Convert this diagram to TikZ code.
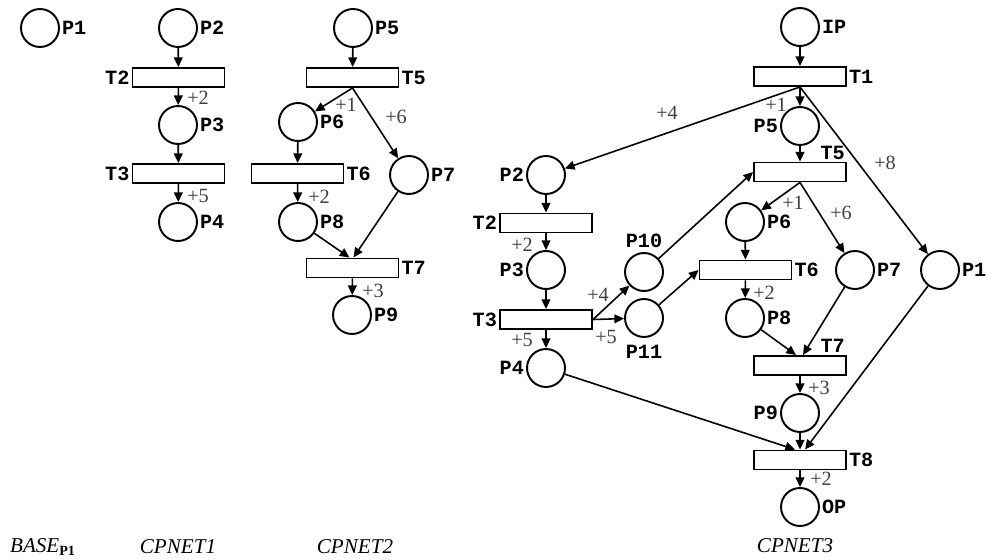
\documentclass[tikz,border=0pt]{standalone}
\usepackage{fontspec}
\setmainfont{Liberation Serif}
\setmonofont{Liberation Mono}
\usetikzlibrary{arrows.meta,calc}

\tikzset{
  place/.style={circle, draw, line width=1.1pt, minimum size=0.76cm, inner sep=0pt},
  trans/.style={rectangle, draw, line width=1.1pt, minimum width=1.84cm, minimum height=0.38cm, inner sep=0pt},
  arc/.style={-{Triangle[length=5.5pt,width=5pt]}, line width=0.9pt},
  tag/.style={font=\ttfamily\bfseries\fontsize{11.5}{12}\selectfont, inner sep=1pt},
  num/.style={font=\fontsize{11.5}{12}\selectfont, text=black!75, inner sep=0pt},
  title/.style={font=\itshape\fontsize{12}{14}\selectfont, inner sep=0pt},
  every label/.append style={tag},
  label distance=0pt
}

\begin{document}
\begin{tikzpicture}[x=0.02cm, y=-0.02cm]
\useasboundingbox (0,0) rectangle (993,560);

% ---------- BASE ----------
\node[place, label=east:P1] (bP1) at (40,28) {};

% ---------- CPNET1 ----------
\node[place, label=east:P2] (aP2) at (178,28) {};
\node[trans, label=west:T2] (aT2) at (178.5,77.5) {};
\node[place, label=east:P3] (aP3) at (178,125) {};
\node[trans, label=west:T3] (aT3) at (178.5,173.5) {};
\node[place, label=east:P4] (aP4) at (178,222) {};

\draw[arc] (aP2) -- (aT2);
\draw[arc] (aT2) -- (aP3);
\draw[arc] (aP3) -- (aT3);
\draw[arc] (aT3) -- (aP4);
\node[num] (aN1) at (198,98) {+2};
\node[num] (aN2) at (198,196) {+5};

% ---------- CPNET2 ----------
\node[place, label=east:P5] (cP5) at (353,28) {};
\node[trans, label=east:T5] (cT5) at (352.5,77.5) {};
\node[place, label=east:P6] (cP6) at (298,122) {};
\node[place, label=east:P7] (cP7) at (409,175) {};
\node[trans, label=east:T6] (cT6) at (297.5,173.5) {};
\node[place, label=east:P8] (cP8) at (298,222) {};
\node[trans, label=east:T7] (cT7) at (352.5,268) {};
\node[place, label=east:P9] (cP9) at (352,315) {};

\draw[arc] (cP5) -- (cT5);
\draw[arc] (cT5.south) -- (cP6);
\draw[arc] (cT5.south) -- (cP7);
\draw[arc] (cP6) -- (cT6);
\draw[arc] (cT6) -- (cP8);
\draw[arc] (cP8) -- ($(cT7.north)+(-3,0)$);
\draw[arc] (cP7) -- ($(cT7.north)+(1,0)$);
\draw[arc] (cT7) -- (cP9);
\node[num] (cN1) at (346,105) {+1};
\node[num] (cN2) at (396,117) {+6};
\node[num] (cN3) at (319,197) {+2};
\node[num] (cN4) at (373,291) {+3};

% ---------- CPNET3 ----------
\node[place, label=east:IP] (IP) at (800,27) {};
\node[trans, label=east:T1] (T1) at (800,76.5) {};
\node[place, label=west:P5] (P5) at (800,126) {};
\node[trans, label={[anchor=south east]north east:T5}] (T5) at (800,172) {};
\node[place, label=west:P2] (P2) at (546,175) {};
\node[trans, label=west:T2] (T2) at (546,223) {};
\node[place, label=west:P3] (P3) at (546,270) {};
\node[trans, label=west:T3] (T3) at (546,319.5) {};
\node[place, label=west:P4] (P4) at (546,368) {};
\node[place, label={[label distance=1pt]north:P10}] (P10) at (644,272) {};
\node[place, label={[label distance=3pt]south:P11}] (P11) at (644,318) {};
\node[place, label=east:P6] (P6) at (745,222) {};
\node[trans, label=east:T6] (T6) at (745.5,270) {};
\node[place, label=east:P7] (P7) at (855,270) {};
\node[place, label=east:P1] (P1) at (940,270) {};
\node[place, label=east:P8] (P8) at (745,318) {};
\node[trans, label={[anchor=south east]north east:T7}] (T7) at (800,365.5) {};
\node[place, label=west:P9] (P9) at (800,413) {};
\node[trans, label=east:T8] (T8) at (800,460) {};
\node[place, label=east:OP] (OP) at (800,507) {};

\draw[arc] (IP) -- (T1);
\draw[arc] (T1.south) -- (P5);
\draw[arc] (T1.south) -- (P2);
\draw[arc] (T1.south) -- (P1);
\draw[arc] (P5) -- (T5);
\draw[arc] (T5.south) -- (P6);
\draw[arc] (T5.south) -- (P7);
\draw[arc] (P2) -- (T2);
\draw[arc] (T2) -- (P3);
\draw[arc] (P3) -- (T3);
\draw[arc] (T3) -- (P4);
\draw[arc] (T3.east) -- (P10);
\draw[arc] (T3.east) -- (P11);
\draw[arc] (P10) -- (T5.west);
\draw[arc] (P11) -- (T6.west);
\draw[arc] (P6) -- (T6);
\draw[arc] (T6) -- (P8);
\draw[arc] (P8) -- ($(T7.north)+(-4,0)$);
\draw[arc] (P7) -- ($(T7.north)+(3,0)$);
\draw[arc] (T7) -- (P9);
\draw[arc] (P9) -- (T8);
\draw[arc] (P4) -- ($(T8.north)+(-5,0)$);
\draw[arc] (P1) -- ($(T8.north)+(5,0)$);
\draw[arc] (T8) -- (OP);

\node[num] (N1) at (667,113) {+4};
\node[num] (N2) at (776,105) {+1};
\node[num] (N3) at (885,163) {+8};
\node[num] (N4) at (793,203) {+1};
\node[num] (N5) at (841,213) {+6};
\node[num] (N6) at (522,245) {+2};
\node[num] (N7) at (598,295) {+4};
\node[num] (N8) at (606,337) {+5};
\node[num] (N9) at (522,340) {+5};
\node[num] (N10) at (764,293) {+2};
\node[num] (N11) at (819,388) {+3};
\node[num] (N12) at (821,479) {+2};

% ---------- titles ----------
\node[title] (tBase) at (43,547) {BASE\textsubscript{\upshape\bfseries P1}};
\node[title] (tNet1) at (178,547) {CPNET1};
\node[title] (tNet2) at (355,547) {CPNET2};
\node[title] (tNet3) at (795,546) {CPNET3};
\end{tikzpicture}
\end{document}
